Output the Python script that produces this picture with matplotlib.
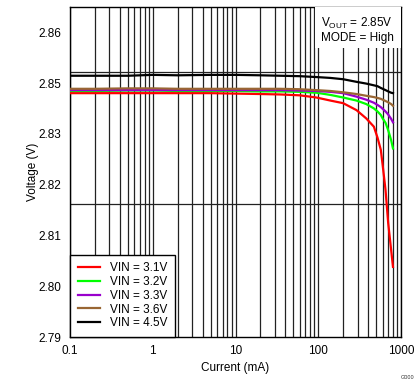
import numpy as np
import matplotlib
matplotlib.use("Agg")
import matplotlib.pyplot as plt
from matplotlib.patches import Rectangle

plt.rcParams['font.family'] = ['Liberation Sans', 'DejaVu Sans']

# Datos (corriente en mA, voltaje en V)
corriente = [0.1, 0.2, 0.5, 1, 2, 5, 10, 20, 35, 60, 95, 140, 200, 290, 380,
             470, 520, 570, 600, 650, 700, 760, 800]

v_31 = [2.8460, 2.8460, 2.8460, 2.8460, 2.8460, 2.8460, 2.8459, 2.8458, 2.8457,
        2.8455, 2.8450, 2.8443, 2.8437, 2.8421, 2.8402, 2.8383, 2.8358, 2.8330,
        2.8295, 2.8238, 2.8162, 2.8100, 2.8061]
v_32 = [2.8465, 2.8465, 2.8466, 2.8466, 2.8465, 2.8465, 2.8465, 2.8464, 2.8464,
        2.8463, 2.8461, 2.8456, 2.8450, 2.8443, 2.8435, 2.8425, 2.8418, 2.8410,
        2.8402, 2.8392, 2.8375, 2.8352, 2.8333]
v_33 = [2.8467, 2.8467, 2.8467, 2.8467, 2.8467, 2.8467, 2.8467, 2.8467, 2.8467,
        2.8466, 2.8465, 2.8463, 2.8460, 2.8452, 2.8445, 2.8438, 2.8433, 2.8428,
        2.8424, 2.8418, 2.8411, 2.8401, 2.8393]
v_36 = [2.8470, 2.8470, 2.8471, 2.8471, 2.8470, 2.8470, 2.8470, 2.8470, 2.8470,
        2.8469, 2.8467, 2.8465, 2.8462, 2.8458, 2.8454, 2.8451, 2.8449, 2.8447,
        2.8445, 2.8442, 2.8439, 2.8435, 2.8431]
v_45 = [2.8500, 2.8500, 2.8500, 2.8502, 2.8501, 2.8502, 2.8502, 2.8501, 2.8500,
        2.8499, 2.8497, 2.8495, 2.8492, 2.8486, 2.8482, 2.8478, 2.8476, 2.8472,
        2.8470, 2.8467, 2.8464, 2.8461, 2.8460]

series = [v_31, v_32, v_33, v_36, v_45]
etiquetas = ['VIN = 3.1V', 'VIN = 3.2V', 'VIN = 3.3V', 'VIN = 3.6V', 'VIN = 4.5V']
colores = ['#FF0000', '#00FF00', '#9900CC', '#996633', '#000000']

# Ejes (la escala original tiene pasos de 0.07/6 V)
paso = 0.07 / 6
y_ticks = [2.79 + i * paso for i in range(7)]
y_labels = ['2.79', '2.80', '2.81', '2.82', '2.83', '2.85', '2.86']
x_ticks = [0.1, 1, 10, 100, 1000]
x_labels = ['0.1', '1', '10', '100', '1000']
lineas_h = [2.8206, 2.8509]


def generar_grafica():
    fig = plt.figure(figsize=(4.19, 3.82), dpi=100)
    ax = fig.add_axes([70 / 419, 1 - 337 / 382, 331 / 419, 330 / 382])

    ax.set_xscale('log')
    ax.set_xlim(0.1, 1000)
    ax.set_ylim(2.79, 2.79 + 330 / 50.8 * paso)

    # cuadricula
    ax.grid(True, which='both', axis='x', color='#222222', linewidth=0.9)
    for yv in lineas_h:
        ax.axhline(yv, color='#222222', linewidth=0.9, zorder=1)

    for v, lab, c in zip(series, etiquetas, colores):
        ax.plot(corriente, v, color=c, linewidth=1.6, label=lab, zorder=3)

    ax.set_xticks(x_ticks)
    ax.set_xticklabels(x_labels)
    ax.xaxis.set_minor_formatter(matplotlib.ticker.NullFormatter())
    ax.set_yticks(y_ticks)
    ax.set_yticklabels(y_labels)
    ax.tick_params(which='both', length=0, labelsize=8.5, pad=6)

    for s in ax.spines.values():
        s.set_linewidth(1.0)
        s.set_color('black')

    ax.set_xlabel('Current (mA)', fontsize=8.5, labelpad=3)
    ax.set_ylabel('Voltage (V)', fontsize=8.5, labelpad=0)

    ley = ax.legend(loc='lower left', fontsize=8.5, frameon=True, fancybox=False,
                    edgecolor='black', framealpha=1, borderaxespad=0,
                    handlelength=1.9, handletextpad=0.8, labelspacing=0.15,
                    borderpad=0.65)
    ley.get_frame().set_linewidth(1.0)
    ley.set_zorder(5)

    # recuadro blanco de la anotacion (tapa la cuadricula)
    ax.add_patch(Rectangle((0.74, 0.876), 0.26, 0.124, transform=ax.transAxes,
                           facecolor='white', edgecolor='none', zorder=4))
    ax.text(0.758, 0.972, r'V$_{\mathregular{OUT}}$ = 2.85V' + '\nMODE = High',
            transform=ax.transAxes, ha='left', va='top', fontsize=8.5,
            linespacing=1.1, zorder=6)

    fig.text(0.99, 0.004, 'G000', fontsize=4, ha='right', va='bottom', color='#333333')

    fig.savefig('out.png', dpi=100)


if __name__ == '__main__':
    generar_grafica()
